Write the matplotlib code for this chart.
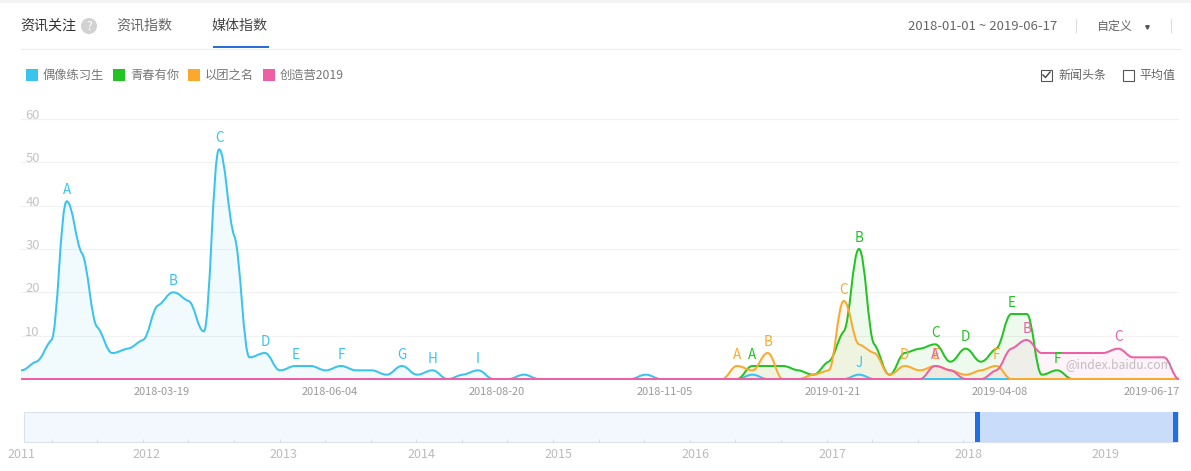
import matplotlib
matplotlib.use('Agg')
import numpy as np
import matplotlib.pyplot as plt
from matplotlib.path import Path
from matplotlib.patches import PathPatch, Rectangle, Circle

plt.rcParams['font.family'] = ['Noto Sans CJK SC', 'DejaVu Sans']

# weekly values, 2018-01-01 .. 2019-06-17
idol = [2, 4, 9, 41, 29, 12, 6, 7, 9, 17, 20, 18, 11, 53, 33, 5, 6, 2, 3, 3, 2, 3, 2, 2, 1, 3, 1, 2,
        0, 1, 2, 0, 0, 1, 0, 0, 0, 0, 0, 0, 0, 1, 0, 0, 0, 0, 0, 0, 1, 0, 0, 0, 0, 0, 0, 1, 0, 0,
        0, 0, 0, 0, 0, 0, 0, 0, 0, 0, 0, 0, 0, 0, 0, 0, 0, 0, 0]
youth = [0] * 47 + [0, 3, 3, 3, 2, 1, 4, 11, 30, 8, 1, 6, 7, 8, 4, 7, 4, 7, 15, 15, 1, 2, 0, 0, 0, 0, 0, 0, 0, 0]
team = [0] * 46 + [0, 3, 2, 6, 0, 0, 1, 2, 18, 8, 6, 1, 3, 2, 3, 2, 1, 2, 3, 0, 0, 0, 0, 0, 0, 0, 0, 0, 0, 0, 0]
camp = [0] * 59 + [0, 3, 2, 0, 0, 2, 7, 9, 6, 6, 6, 6, 6, 7, 5, 5, 5, 0]

names = ['偶像练习生', '青春有你', '以团之名', '创造营2019']
colors = ['#3ac3ee', '#22c322', '#fba92c', '#ee5fa5']
series = [idol, youth, team, camp]
news = [
    {'A': 3, 'B': 10, 'C': 13, 'D': 16, 'E': 18, 'F': 21, 'G': 25, 'H': 27, 'I': 30, 'J': 55},
    {'A': 48, 'B': 55, 'C': 60, 'D': 62, 'E': 65, 'F': 68},
    {'A': 47, 'B': 49, 'C': 54, 'D': 58, 'E': 60, 'F': 64},
    {'A': 60, 'B': 66, 'C': 72},
]
date_labels = ['2018-03-19', '2018-06-04', '2018-08-20', '2018-11-05', '2019-01-21', '2019-04-08', '2019-06-17']
date_pos = [9.25, 20.26, 31.21, 42.26, 53.26, 64.26, 74.2]
year_labels = ['2011', '2012', '2013', '2014', '2015', '2016', '2017', '2018', '2019']
year_px = [21, 146, 283, 421, 558, 695, 832, 968, 1105]

W, H = 1191, 471


def smooth_path(y, closed=False):
    # nearly flat tangents at every point gives the shoulders of the original
    y = np.asarray(y, dtype=float)
    d = np.diff(y)
    m = np.zeros_like(y)
    for i in range(1, len(y) - 1):
        if d[i - 1] * d[i] > 0:
            m[i] = 0.35 * 2 * d[i - 1] * d[i] / (d[i - 1] + d[i])
    verts = [(0, y[0])]
    codes = [Path.MOVETO]
    for i in range(len(y) - 1):
        verts += [(i + 0.4, y[i] + m[i] * 0.4), (i + 0.6, y[i + 1] - m[i + 1] * 0.4), (i + 1, y[i + 1])]
        codes += [Path.CURVE4] * 3
    if closed:
        verts += [(len(y) - 1, 0), (0, 0), (0, y[0])]
        codes += [Path.LINETO, Path.LINETO, Path.CLOSEPOLY]
    return Path(verts, codes)


fig = plt.figure(figsize=(W / 100, H / 100), dpi=100)

# page furniture in pixel coordinates
ui = fig.add_axes([0, 0, 1, 1])
ui.set_xlim(0, W)
ui.set_ylim(H, 0)
ui.axis('off')


def px(s):
    return s * 0.72


ui.add_patch(Rectangle((0, 0), W, 2.5, color='#f2f2f2', lw=0))
ui.plot([21, 1180], [48.5, 48.5], color='#eeeeee', lw=0.8)
ui.text(20, 26, '资讯关注', fontsize=px(14), color='#333333', va='center')
ui.add_patch(Circle((89, 26), 8, color='#d2d2d2', lw=0))
ui.text(89, 26, '?', fontsize=px(12), color='white', ha='center', va='center')
ui.text(116, 26, '资讯指数', fontsize=px(14), color='#666666', va='center')
ui.text(212, 26, '媒体指数', fontsize=px(14), color='#444444', va='center')
ui.add_patch(Rectangle((213, 46), 56, 2, color='#2a6fd6', lw=0))
ui.text(908, 26.5, '2018-01-01 ~ 2019-06-17', fontsize=px(13.2), color='#666666', va='center')
ui.plot([1075.5, 1075.5], [19, 32], color='#dddddd', lw=0.8)
ui.text(1096, 26.5, '自定义', fontsize=px(12), color='#666666', va='center')
ui.plot([1147], [27], marker='v', ms=2.5, color='#555555')
ui.plot([1170.5, 1170.5], [19, 32], color='#dddddd', lw=0.8)

legend_x = [26, 113, 188, 263]
for x, name, c in zip(legend_x, names, colors):
    ui.add_patch(Rectangle((x, 69), 12, 12, color=c, lw=0))
    ui.text(x + 17, 75.5, name, fontsize=px(12.3), color='#777777', va='center')

ui.add_patch(Rectangle((1040.5, 69.5), 11, 11, fc='white', ec='#555555', lw=0.8))
ui.plot([1043, 1045.5, 1050], [75, 77.5, 72], color='#444444', lw=1)
ui.text(1058, 75.5, '新闻头条', fontsize=px(12), color='#666666', va='center')
ui.add_patch(Rectangle((1122.5, 69.5), 11, 11, fc='white', ec='#555555', lw=0.8))
ui.text(1139, 75.5, '平均值', fontsize=px(12), color='#666666', va='center')

# range slider
ui.add_patch(Rectangle((23.5, 412), 1154, 30, fc='#f3f7fe', ec='#dde2ea', lw=0.8))
ui.add_patch(Rectangle((977, 412), 199, 30, fc='#c9dcf9', lw=0))
ui.vlines(np.arange(51.5, 975, 45.6), 438.5, 441.5, color='#d5d9e0', lw=0.6)
ui.add_patch(Rectangle((975, 412), 5, 30, color='#1f6fe5', lw=0))
ui.add_patch(Rectangle((1173, 412), 5, 30, color='#1f6fe5', lw=0))
for x, y in zip(year_px, year_labels):
    ui.text(x, 454.5, y, fontsize=px(12.5), color='#bbbbbb', ha='center', va='center')

# main chart
ax = fig.add_axes([21 / W, 1 - 379 / H, 1158 / W, 260 / H])
ax.patch.set_alpha(0)
ax.set_xlim(0, 76)
ax.set_ylim(0, 60)
for s in ax.spines.values():
    s.set_visible(False)
ax.set_yticks([10, 20, 30, 40, 50, 60])
ax.grid(axis='y', color='#f1f1f1', lw=0.8)
ax.set_axisbelow(True)
ax.tick_params(axis='y', length=0, pad=-13.5, labelsize=px(13), labelcolor='#c4c4c4')
for lab in ax.get_yticklabels():
    lab.set_va('baseline')
ax.set_xticks(date_pos, date_labels)
ax.tick_params(axis='x', length=0, pad=6, labelsize=px(11), labelcolor='#999999')

for y, c, marks in zip(series, colors, news):
    ax.add_patch(PathPatch(smooth_path(y, closed=True), fc=c, ec='none', alpha=0.07))
    ax.add_patch(PathPatch(smooth_path(y), fc='none', ec=c, lw=1.44, clip_on=False, capstyle='butt', zorder=3))
    for letter, i in marks.items():
        ax.annotate(letter, (i, y[i]), xytext=(0, 3.2), textcoords='offset points', ha='center', va='bottom',
                    fontsize=px(13.5), color=c, zorder=4)

ui.set_zorder(0)
ax.set_zorder(1)
ax.text(1065 / W, 1 - 365 / H, '@index.baidu.com', transform=fig.transFigure, fontsize=px(12.2),
        color='#9a9a9a', alpha=0.6, va='center', zorder=5)

fig.savefig('out.png', dpi=100)
